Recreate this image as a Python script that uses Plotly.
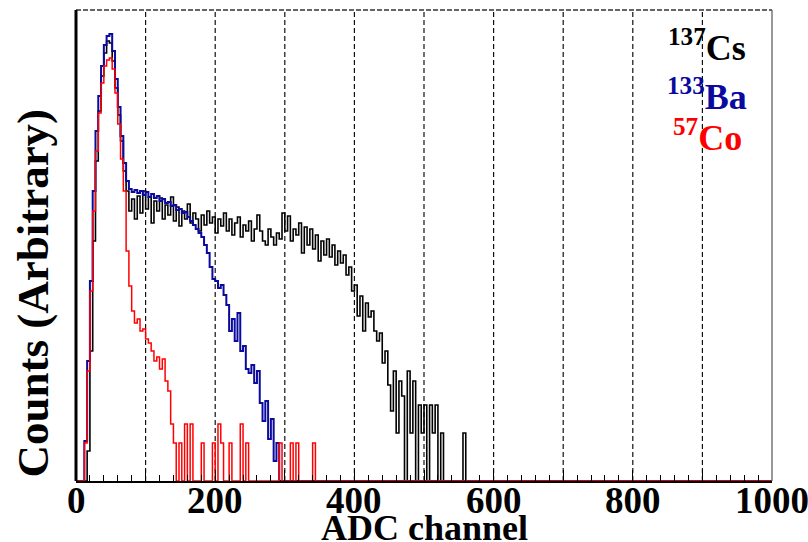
import plotly.graph_objects as go

# ADC spectra of three calibration sources, 4-channel bins, channel range 0-1000
BIN_WIDTH = 4
N_CHANNELS = 1000

# 137Cs: counts per bin starting at channel 16
cs_start = 16
cs_counts = [
    30, 130, 240, 320, 370, 405, 428, 440, 438, 420, 393, 366, 340, 310, 290, 270,
    282, 262, 285, 268, 290, 272, 284, 258, 280, 270, 283, 262, 276, 266, 284, 260,
    274, 255, 270, 262, 277, 258, 268, 262, 250, 266, 256, 270, 258, 264, 248, 262,
    255, 268, 250, 262, 246, 258, 264, 244, 256, 250, 260, 240, 252, 266, 250, 240,
    236, 252, 244, 236, 248, 242, 268, 250, 265, 240, 252, 246, 258, 228, 254, 236,
    252, 232, 246, 220, 240, 226, 242, 224, 236, 216, 230, 218, 226, 206, 214, 190,
    196, 165, 185, 150, 178, 164, 170, 150, 140, 148, 118, 130, 96, 70, 110, 48,
    100, 85, 0, 110, 48, 100, 0, 76, 48, 76, 0, 76, 48, 76, 0, 48,
    0, 0, 0, 0, 0, 0, 0, 48,
]

# 133Ba: counts per bin starting at channel 12
ba_start = 12
ba_counts = [
    40, 120, 200, 290, 350, 385, 415, 436, 445, 447, 430, 402, 374, 345, 318, 300,
    292, 289, 291, 288, 290, 286, 289, 284, 287, 283, 285, 280, 282, 278, 279, 275,
    276, 271, 272, 268, 269, 264, 260, 256, 252, 248, 244, 236, 228, 214, 202, 200,
    193, 196, 186, 176, 150, 162, 140, 168, 130, 135, 112, 108, 116, 98, 110, 78,
    60, 80, 42, 62, 20, 38,
]

# 57Co: counts per bin starting at channel 12
co_start = 12
co_counts = [
    38, 110, 190, 270, 330, 368, 398, 415, 421, 423, 412, 388, 357, 322, 290, 230,
    195, 170, 158, 162, 150, 152, 142, 138, 130, 120, 124, 112, 122, 100, 90, 57,
    38, 0, 38, 0, 57, 0, 57, 0, 0, 0, 38, 0, 0, 0, 38, 0,
    57, 38, 0, 0, 38, 0, 0, 0, 57, 0, 38, 0, 0, 0, 0, 0,
    0, 0, 0, 0, 0, 0, 38, 0, 0, 0, 38, 0, 38, 0, 0, 0,
    0, 0, 38,
]

x_ticks = [0, 100, 200, 300, 400, 500, 600, 700, 800, 900, 1000]
x_label_vals = [0, 200, 400, 600, 800, 1000]
x_label_text = ["0", "200", "400", "600", "800", "1000"]
grid_channels = [100, 200, 300, 400, 500, 600, 700, 800, 900]

Y_MAX = 471
SERIF = "Liberation Serif, Times New Roman, serif"


def step_trace(start, counts, color, width):
    n_bins = N_CHANNELS // BIN_WIDTH
    full = [0] * n_bins
    first = start // BIN_WIDTH
    for i, c in enumerate(counts):
        full[first + i] = c
    edges = [k * BIN_WIDTH for k in range(n_bins + 1)]
    ys = full + [full[-1]]
    return go.Scatter(x=edges, y=ys, mode="lines", line=dict(color=color, width=width, shape="hv"),
                      hoverinfo="skip", showlegend=False)


fig = go.Figure()
fig.add_trace(step_trace(cs_start, cs_counts, "#000000", 1.6))
fig.add_trace(step_trace(ba_start, ba_counts, "#0a0a9e", 2.0))
fig.add_trace(step_trace(co_start, co_counts, "#ff0000", 1.5))

# dashed vertical grid
for g in grid_channels:
    fig.add_shape(type="line", xref="x", yref="paper", x0=g, x1=g, y0=0, y1=1,
                  line=dict(color="#111", width=1.2, dash="5px,3px"), layer="below")

# frame
fig.add_shape(type="line", xref="paper", yref="paper", x0=0, x1=1, y0=1, y1=1,
              line=dict(color="#333", width=1.5, dash="5px,2px"))
fig.add_shape(type="line", xref="paper", yref="paper", x0=1, x1=1, y0=0, y1=1,
              line=dict(color="#555", width=1.2))
fig.add_shape(type="line", xref="paper", yref="paper", x0=0, x1=0, y0=0, y1=1,
              line=dict(color="#000", width=3))

fig.update_xaxes(range=[0, 1000], tickvals=x_ticks, showticklabels=False, automargin=False,
                 ticks="inside", ticklen=11, tickwidth=1.2, tickcolor="#000",
                 minor=dict(dtick=20, ticks="inside", ticklen=6, tickcolor="#000", tickwidth=1),
                 showgrid=False, zeroline=False, showline=True, linecolor="#000", linewidth=2)
fig.update_yaxes(range=[0, Y_MAX], showticklabels=False, ticks="", showgrid=False,
                 zeroline=False, showline=False, automargin=False)

# tick labels on the channel axis
for v, t in zip(x_label_vals, x_label_text):
    fig.add_annotation(text=f"<b>{t}</b>", x=v, y=-0.041, xref="x", yref="paper",
                       showarrow=False, xanchor="center", yanchor="middle",
                       font=dict(family=SERIF, size=37, color="#000"))

labels = [
    ("<sup>137</sup>Cs", "#000000", 0.907, 0.925),
    ("<sup>133</sup>Ba", "#0a0a9e", 0.907, 0.82),
    ("<sup>57</sup>Co", "#ff0000", 0.907, 0.733),
]
for txt, col, xp, yp in labels:
    fig.add_annotation(text=f"<b>{txt}</b>", x=xp, y=yp, xref="paper", yref="paper",
                       showarrow=False, xanchor="center", yanchor="middle",
                       font=dict(family=SERIF, size=36, color=col))

fig.add_annotation(text="<b>ADC channel</b>", x=0.5, y=-0.1, xref="paper", yref="paper",
                   showarrow=False, xanchor="center", yanchor="middle",
                   font=dict(family=SERIF, size=36, color="#000"))
fig.add_annotation(text="<b>Counts (Arbitrary)</b>", x=-0.061, y=0.399, xref="paper", yref="paper",
                   showarrow=False, xanchor="center", yanchor="middle", textangle=-90,
                   font=dict(family=SERIF, size=45, color="#000"))

fig.update_layout(width=808, height=542, margin=dict(l=76, r=36, t=10, b=61),
                  plot_bgcolor="white", paper_bgcolor="white")

fig.write_html("out.html")
